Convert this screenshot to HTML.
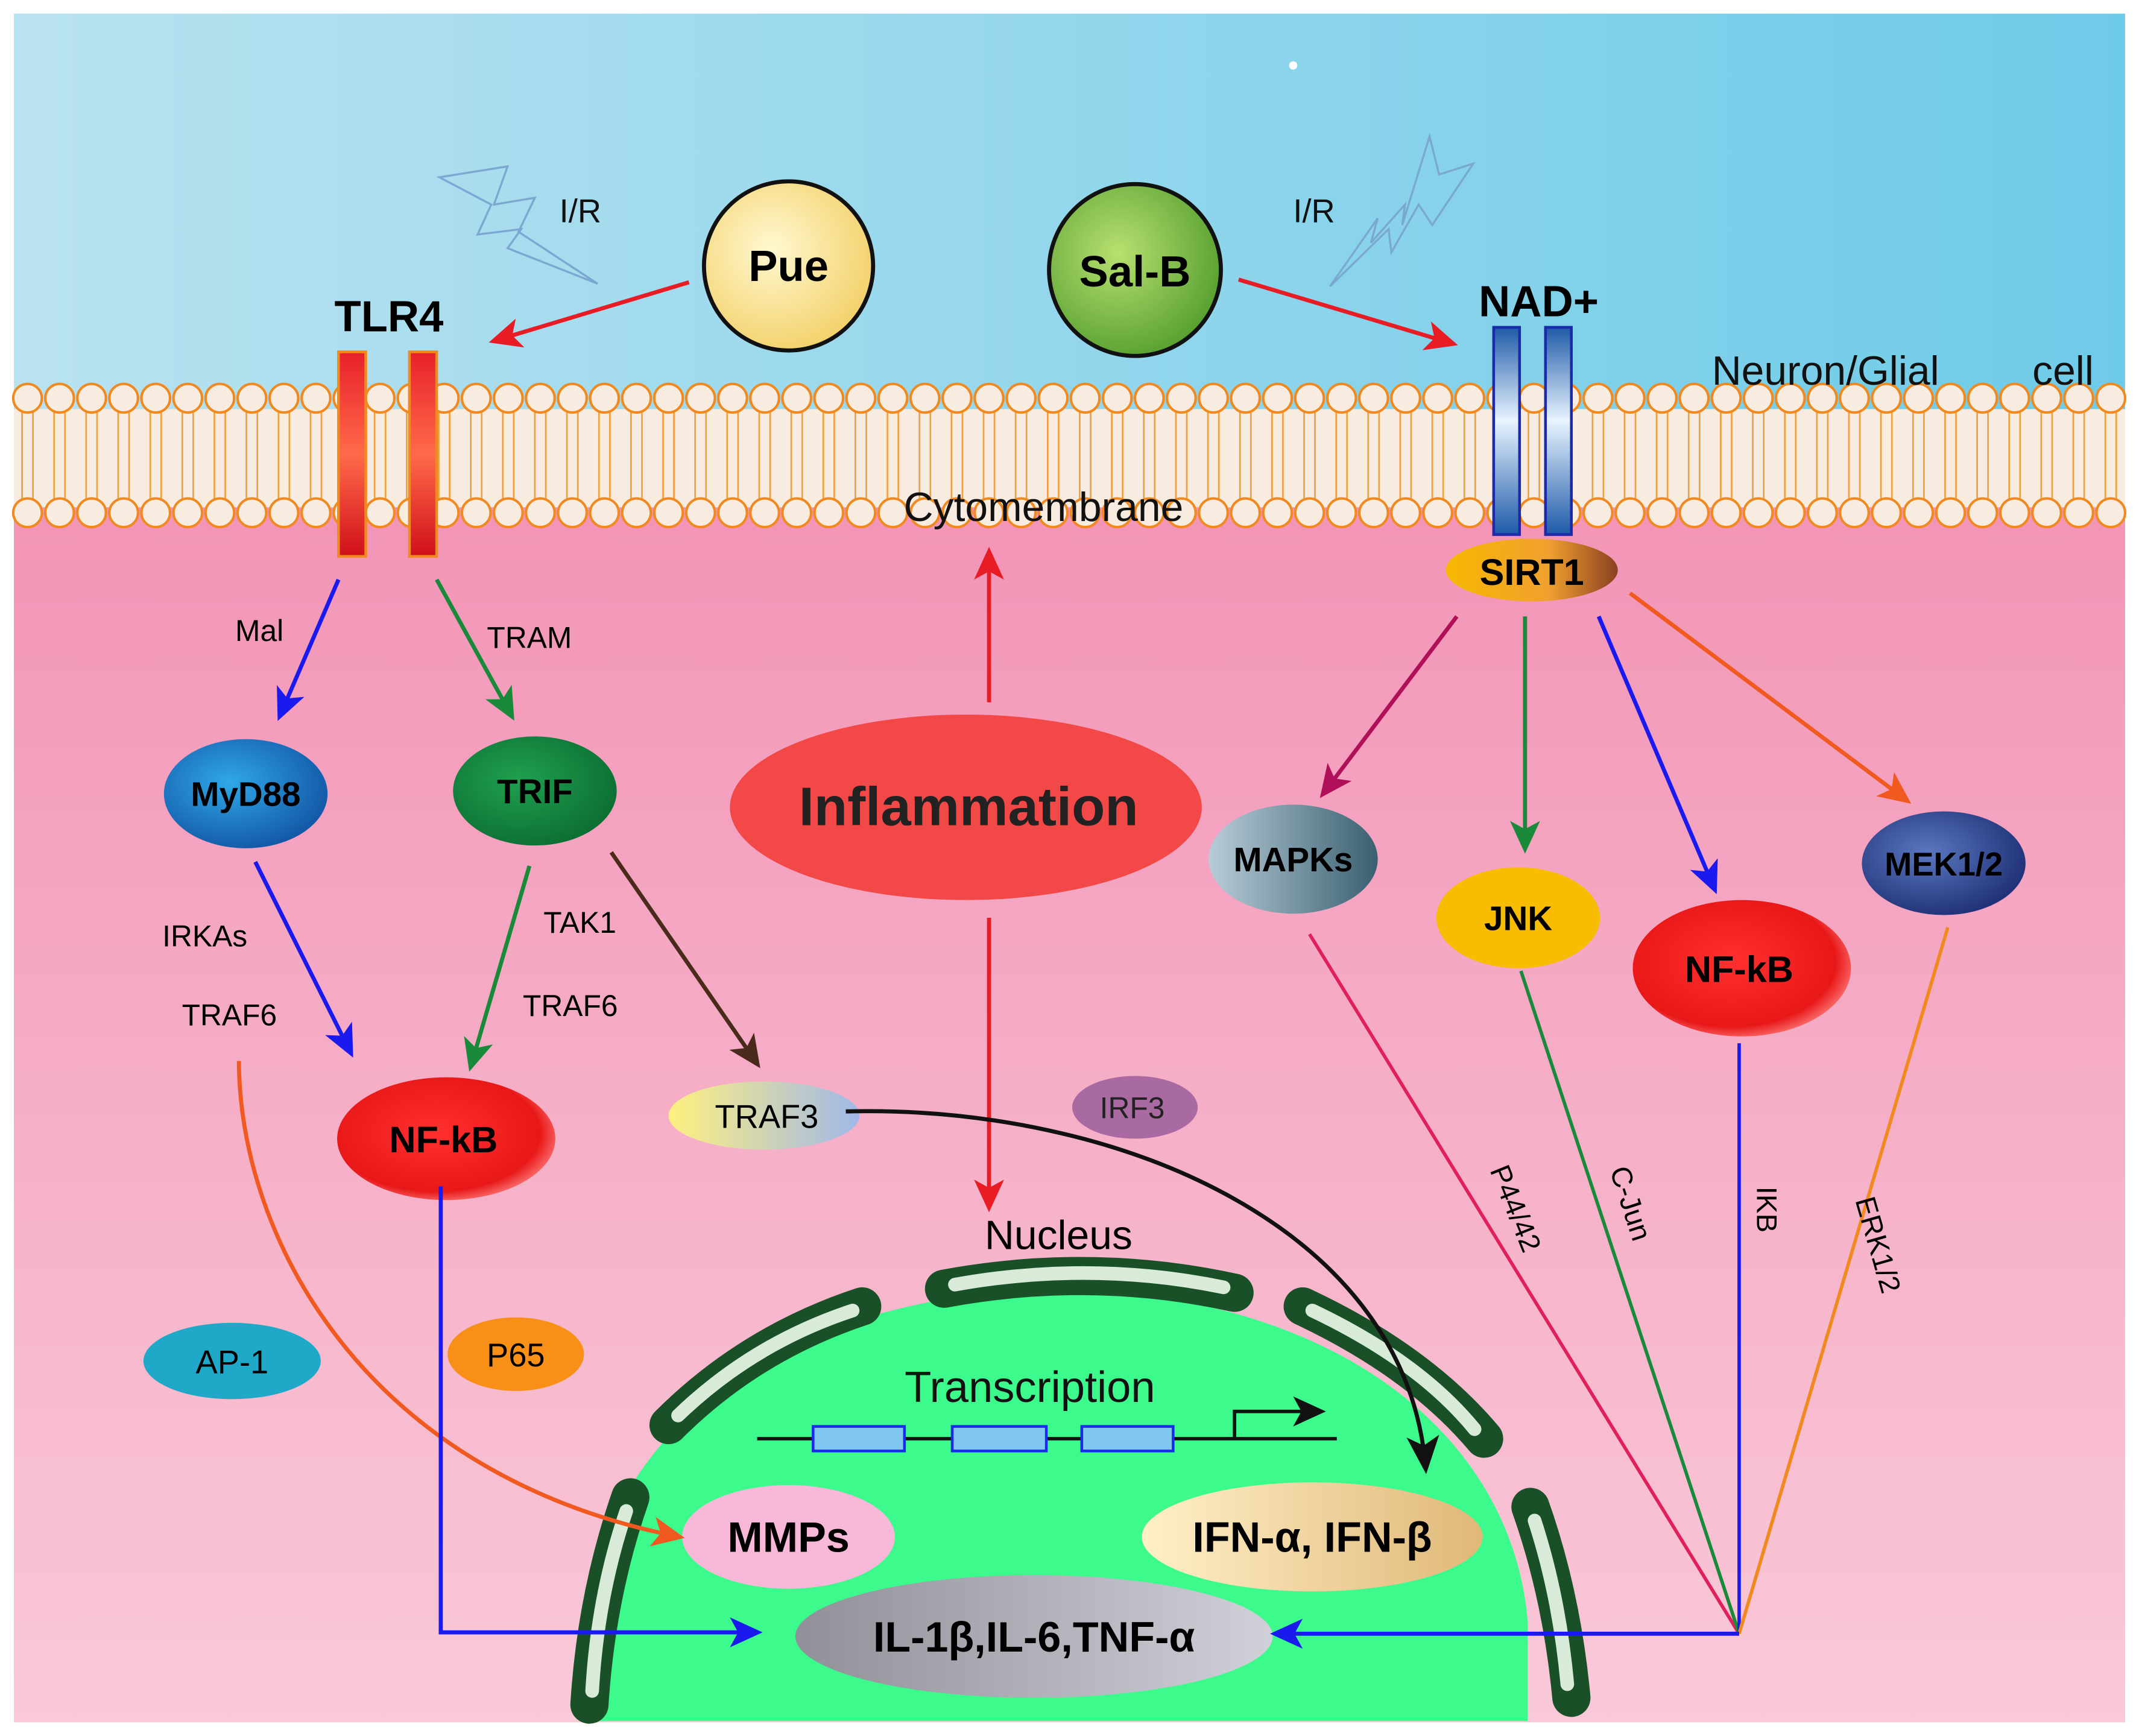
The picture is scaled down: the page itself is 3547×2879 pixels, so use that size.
<!DOCTYPE html>
<html><head><meta charset="utf-8"><style>
html,body{margin:0;padding:0;background:#fff}
svg{display:block}
text{font-family:"Liberation Sans",Arial,sans-serif}
</style></head><body>
<svg width="3547" height="2879" viewBox="0 0 1568 1273" xmlns="http://www.w3.org/2000/svg">
<defs>
<linearGradient id="sky" x1="0" y1="0" x2="1" y2="0"><stop offset="0" stop-color="#b9e2f0"/><stop offset="1" stop-color="#6ecbe8"/></linearGradient>
<linearGradient id="pink" x1="0" y1="0" x2="0" y2="1"><stop offset="0" stop-color="#f290b4"/><stop offset="1" stop-color="#f9c9d8"/></linearGradient>
<linearGradient id="redbar" x1="0" y1="0" x2="0" y2="1"><stop offset="0" stop-color="#e8202a"/><stop offset="0.5" stop-color="#ff6a4a"/><stop offset="1" stop-color="#d0101a"/></linearGradient>
<linearGradient id="bluebar" x1="0" y1="0" x2="0" y2="1"><stop offset="0" stop-color="#1e5aa8"/><stop offset="0.45" stop-color="#e8f4ff"/><stop offset="1" stop-color="#1e5aa8"/></linearGradient>
<radialGradient id="pue" cx="0.4" cy="0.4" r="0.7"><stop offset="0" stop-color="#fff8d0"/><stop offset="1" stop-color="#f2cd60"/></radialGradient>
<radialGradient id="sal" cx="0.4" cy="0.4" r="0.7"><stop offset="0" stop-color="#b8e070"/><stop offset="1" stop-color="#4e9a2a"/></radialGradient>
<linearGradient id="sirt" x1="0" y1="0" x2="1" y2="0"><stop offset="0" stop-color="#f7b800"/><stop offset="0.6" stop-color="#f0a030"/><stop offset="1" stop-color="#8a4020"/></linearGradient>
<radialGradient id="myd" cx="0.4" cy="0.4" r="0.7"><stop offset="0" stop-color="#30a8e8"/><stop offset="1" stop-color="#1050a0"/></radialGradient>
<radialGradient id="trif" cx="0.4" cy="0.4" r="0.7"><stop offset="0" stop-color="#20a050"/><stop offset="1" stop-color="#0a6a30"/></radialGradient>
<radialGradient id="nfkb" cx="0.45" cy="0.45" r="0.6"><stop offset="0" stop-color="#ff3030"/><stop offset="0.8" stop-color="#e81818"/><stop offset="1" stop-color="#ff8080"/></radialGradient>
<linearGradient id="traf3" x1="0" y1="0" x2="1" y2="0"><stop offset="0" stop-color="#fff080"/><stop offset="1" stop-color="#a0b8e8"/></linearGradient>
<linearGradient id="mapk" x1="0" y1="0" x2="1" y2="0"><stop offset="0" stop-color="#b8ccd8"/><stop offset="1" stop-color="#3a6070"/></linearGradient>
<radialGradient id="mek" cx="0.4" cy="0.4" r="0.7"><stop offset="0" stop-color="#5a78c0"/><stop offset="1" stop-color="#1a2a70"/></radialGradient>
<linearGradient id="ifn" x1="0" y1="0" x2="1" y2="0"><stop offset="0" stop-color="#fff0c8"/><stop offset="1" stop-color="#e0b878"/></linearGradient>
<linearGradient id="il" x1="0" y1="0" x2="1" y2="0"><stop offset="0" stop-color="#909098"/><stop offset="1" stop-color="#d0d0d8"/></linearGradient>
<marker id="aB" markerWidth="26" markerHeight="26" refX="20" refY="13" orient="auto" markerUnits="userSpaceOnUse" viewBox="0 0 26 26"><path d="M0,2L24,13L0,24L6,13z" fill="#1a1aee"/></marker>
<marker id="aG" markerWidth="26" markerHeight="26" refX="20" refY="13" orient="auto" markerUnits="userSpaceOnUse" viewBox="0 0 26 26"><path d="M0,2L24,13L0,24L6,13z" fill="#1a8a3a"/></marker>
<marker id="aRR" markerWidth="26" markerHeight="26" refX="20" refY="13" orient="auto" markerUnits="userSpaceOnUse" viewBox="0 0 26 26"><path d="M0,2L24,13L0,24L6,13z" fill="#e81c24"/></marker>
<marker id="aBr" markerWidth="26" markerHeight="26" refX="20" refY="13" orient="auto" markerUnits="userSpaceOnUse" viewBox="0 0 26 26"><path d="M0,2L24,13L0,24L6,13z" fill="#4a2a1a"/></marker>
<marker id="aM" markerWidth="26" markerHeight="26" refX="20" refY="13" orient="auto" markerUnits="userSpaceOnUse" viewBox="0 0 26 26"><path d="M0,2L24,13L0,24L6,13z" fill="#b0105a"/></marker>
<marker id="aO" markerWidth="26" markerHeight="26" refX="20" refY="13" orient="auto" markerUnits="userSpaceOnUse" viewBox="0 0 26 26"><path d="M0,2L24,13L0,24L6,13z" fill="#f05a20"/></marker>
<marker id="aK" markerWidth="26" markerHeight="26" refX="20" refY="13" orient="auto" markerUnits="userSpaceOnUse" viewBox="0 0 26 26"><path d="M0,2L24,13L0,24L6,13z" fill="#111"/></marker>
<marker id="aK2" markerWidth="30" markerHeight="30" refX="22" refY="15" orient="auto" markerUnits="userSpaceOnUse" viewBox="0 0 30 30"><path d="M0,3L28,15L0,27L7,15z" fill="#111"/></marker>
</defs>
<rect x="0" y="0" width="1568" height="1273" fill="#fff"/>
<rect x="10" y="10" width="1548" height="290" fill="url(#sky)"/>
<rect x="10" y="300" width="1548" height="963" fill="url(#pink)"/>
<circle cx="948" cy="48" r="3" fill="#fff"/>
<!-- membrane -->
<rect x="10" y="300" width="1548" height="72" fill="#f8ece0"/>
<g id="mem"></g>
<script>
(function(){var ns="http://www.w3.org/2000/svg",g=document.getElementById('mem');
for(var x=20;x<1560;x+=23.5){
 var t=document.createElementNS(ns,'path');t.setAttribute('d','M'+(x-4)+',300 v68 M'+(x+4)+',300 v68');t.setAttribute('stroke','#f0a040');t.setAttribute('stroke-width','1.2');g.appendChild(t);
 [292,376].forEach(function(y){var c=document.createElementNS(ns,'circle');c.setAttribute('cx',x);c.setAttribute('cy',y);c.setAttribute('r',10.5);c.setAttribute('fill','#f8ece0');c.setAttribute('stroke','#f08a20');c.setAttribute('stroke-width','1.8');g.appendChild(c);});
}})();
</script>
<!-- lightning -->
<path d="M322,130 L372,122 L362,150 L392,145 L380,170 L438,208 L372,182 L382,168 L350,172 L360,150 Z" fill="none" stroke="#7aa8d0" stroke-width="1.5"/>
<path d="M975,210 L1010,160 L1005,178 L1030,150 L1028,165 L1048,100 L1055,128 L1080,120 L1050,165 L1040,150 L1020,185 L1018,168 Z" fill="none" stroke="#7aa8d0" stroke-width="1.5"/>
<text x="410" y="163" font-size="24" fill="#111">I/R</text>
<text x="948" y="163" font-size="24" fill="#111">I/R</text>
<!-- receptors -->
<text x="285" y="243" font-size="32" font-weight="bold" text-anchor="middle">TLR4</text>
<rect x="248" y="258" width="20" height="150" fill="url(#redbar)" stroke="#f08a20" stroke-width="2"/>
<rect x="300" y="258" width="20" height="150" fill="url(#redbar)" stroke="#f08a20" stroke-width="2"/>
<text x="1128" y="232" font-size="32" font-weight="bold" text-anchor="middle">NAD+</text>
<rect x="1095" y="240" width="19" height="152" fill="url(#bluebar)" stroke="#1a2aaa" stroke-width="2"/>
<rect x="1133" y="240" width="19" height="152" fill="url(#bluebar)" stroke="#1a2aaa" stroke-width="2"/>
<text x="1255" y="282" font-size="30" fill="#111">Neuron/Glial</text>
<text x="1490" y="282" font-size="30" fill="#111">cell</text>
<text x="765" y="382" font-size="30" fill="#111" text-anchor="middle">Cytomembrane</text>
<!-- drugs -->
<circle cx="578" cy="195" r="62" fill="url(#pue)" stroke="#111" stroke-width="3"/>
<text x="578" y="206" font-size="32" font-weight="bold" text-anchor="middle">Pue</text>
<circle cx="832" cy="198" r="63" fill="url(#sal)" stroke="#111" stroke-width="3"/>
<text x="832" y="210" font-size="32" font-weight="bold" text-anchor="middle">Sal-B</text>
<line x1="505" y1="207" x2="362" y2="250" stroke="#e81c24" stroke-width="3" marker-end="url(#aRR)"/>
<line x1="908" y1="205" x2="1065" y2="252" stroke="#e81c24" stroke-width="3" marker-end="url(#aRR)"/>
<!-- SIRT1 -->
<ellipse cx="1123" cy="418" rx="63" ry="23" fill="url(#sirt)"/>
<text x="1123" y="429" font-size="27" font-weight="bold" text-anchor="middle">SIRT1</text>
<!-- inflammation -->
<line x1="725" y1="515" x2="725" y2="405" stroke="#e81c24" stroke-width="3" marker-end="url(#aRR)"/>
<line x1="725" y1="673" x2="725" y2="885" stroke="#e81c24" stroke-width="3" marker-end="url(#aRR)"/>
<ellipse cx="708" cy="592" rx="173" ry="68" fill="#f24848"/>
<text x="710" y="605" font-size="40" font-weight="bold" text-anchor="middle" fill="#222">Inflammation</text>
<!-- left pathway -->
<text x="190" y="470" font-size="22" text-anchor="middle">Mal</text>
<text x="388" y="475" font-size="22" text-anchor="middle">TRAM</text>
<line x1="248" y1="425" x2="205" y2="525" stroke="#1a1aee" stroke-width="3" marker-end="url(#aB)"/>
<line x1="320" y1="425" x2="375" y2="525" stroke="#1a8a3a" stroke-width="3" marker-end="url(#aG)"/>
<ellipse cx="180" cy="582" rx="60" ry="40" fill="url(#myd)"/>
<text x="180" y="591" font-size="25" font-weight="bold" text-anchor="middle">MyD88</text>
<ellipse cx="392" cy="580" rx="60" ry="40" fill="url(#trif)"/>
<text x="392" y="589" font-size="25" font-weight="bold" text-anchor="middle">TRIF</text>
<text x="150" y="694" font-size="22" text-anchor="middle">IRKAs</text>
<text x="168" y="752" font-size="22" text-anchor="middle">TRAF6</text>
<text x="425" y="684" font-size="22" text-anchor="middle">TAK1</text>
<text x="418" y="745" font-size="22" text-anchor="middle">TRAF6</text>
<line x1="187" y1="632" x2="257" y2="772" stroke="#1a1aee" stroke-width="3" marker-end="url(#aB)"/>
<line x1="388" y1="635" x2="345" y2="782" stroke="#1a8a3a" stroke-width="3" marker-end="url(#aG)"/>
<line x1="448" y1="625" x2="555" y2="780" stroke="#4a2a1a" stroke-width="3" marker-end="url(#aBr)"/>
<ellipse cx="327" cy="835" rx="80" ry="45" fill="url(#nfkb)"/>
<text x="325" y="845" font-size="27" font-weight="bold" text-anchor="middle">NF-kB</text>
<ellipse cx="560" cy="818" rx="70" ry="25" fill="url(#traf3)"/>
<text x="562" y="827" font-size="24" text-anchor="middle">TRAF3</text>
<ellipse cx="832" cy="812" rx="46" ry="23" fill="#a86aa0"/>
<text x="830" y="820" font-size="22" text-anchor="middle" fill="#222">IRF3</text>
<ellipse cx="170" cy="998" rx="65" ry="28" fill="#20a8c8"/>
<text x="170" y="1007" font-size="24" text-anchor="middle">AP-1</text>
<ellipse cx="378" cy="993" rx="50" ry="27" fill="#f89018"/>
<text x="378" y="1002" font-size="24" text-anchor="middle">P65</text>
<!-- nucleus -->
<text x="776" y="916" font-size="30" text-anchor="middle">Nucleus</text>
<path d="M430,1262 L430,1190 C440,1060 560,950 776,945 C990,950 1110,1060 1120,1190 L1120,1262 Z" fill="#3cfa8c"/>
<g fill="none" stroke-linecap="round">
<g stroke="#1a5028" stroke-width="28">
<path d="M692,945 Q800,925 905,948"/>
<path d="M490,1045 Q550,985 632,958"/>
<path d="M955,958 Q1040,998 1088,1055"/>
<path d="M462,1098 Q437,1170 432,1250"/>
<path d="M1122,1105 Q1145,1170 1152,1245"/>
</g>
<g stroke="#d8ead8" stroke-width="10">
<path d="M700,942 Q800,924 897,944"/>
<path d="M497,1038 Q552,985 625,961"/>
<path d="M962,961 Q1040,998 1081,1048"/>
<path d="M459,1108 Q438,1170 434,1240"/>
<path d="M1125,1115 Q1143,1170 1149,1235"/>
</g>
</g>
<text x="755" y="1028" font-size="32" text-anchor="middle" fill="#111">Transcription</text>
<line x1="555" y1="1055" x2="980" y2="1055" stroke="#111" stroke-width="2.5"/>
<rect x="596" y="1046" width="67" height="18" fill="#80c8f0" stroke="#1a2aee" stroke-width="2"/>
<rect x="698" y="1046" width="69" height="18" fill="#80c8f0" stroke="#1a2aee" stroke-width="2"/>
<rect x="793" y="1046" width="67" height="18" fill="#80c8f0" stroke="#1a2aee" stroke-width="2"/>
<path d="M905,1055 V1035 H968" fill="none" stroke="#111" stroke-width="2.5" marker-end="url(#aK)"/>
<ellipse cx="578" cy="1127" rx="78" ry="38" fill="#f8b8d8"/>
<text x="578" y="1138" font-size="31" font-weight="bold" text-anchor="middle">MMPs</text>
<ellipse cx="962" cy="1127" rx="125" ry="40" fill="url(#ifn)"/>
<text x="962" y="1138" font-size="31" font-weight="bold" text-anchor="middle">IFN-α, IFN-β</text>
<ellipse cx="758" cy="1200" rx="175" ry="45" fill="url(#il)"/>
<text x="758" y="1211" font-size="31" font-weight="bold" text-anchor="middle">IL-1β,IL-6,TNF-α</text>
<!-- connectors to nucleus -->
<path d="M175,778 C175,900 260,1080 498,1127" fill="none" stroke="#f05a20" stroke-width="3" marker-end="url(#aO)"/>
<path d="M323,870 V1197 H555" fill="none" stroke="#1a1aee" stroke-width="3" marker-end="url(#aB)"/>
<path d="M620,815 C820,810 1030,900 1045,1075" fill="none" stroke="#111" stroke-width="3" marker-end="url(#aK2)"/>
<!-- right pathway -->
<line x1="1068" y1="452" x2="970" y2="582" stroke="#b0105a" stroke-width="3" marker-end="url(#aM)"/>
<line x1="1118" y1="452" x2="1118" y2="622" stroke="#1a8a3a" stroke-width="3" marker-end="url(#aG)"/>
<line x1="1172" y1="452" x2="1257" y2="652" stroke="#1a1aee" stroke-width="3" marker-end="url(#aB)"/>
<line x1="1195" y1="435" x2="1398" y2="587" stroke="#f05a20" stroke-width="3" marker-end="url(#aO)"/>
<line x1="960" y1="685" x2="1275" y2="1198" stroke="#e0205a" stroke-width="2.5"/>
<line x1="1115" y1="712" x2="1275" y2="1198" stroke="#1a8a3a" stroke-width="2.5"/>
<line x1="1275" y1="765" x2="1275" y2="1198" stroke="#1a1aee" stroke-width="2.5"/>
<line x1="1428" y1="680" x2="1275" y2="1198" stroke="#f08a20" stroke-width="2.5"/>
<line x1="1275" y1="1198" x2="935" y2="1198" stroke="#1a1aee" stroke-width="3" marker-end="url(#aB)"/>
<ellipse cx="948" cy="630" rx="62" ry="40" fill="url(#mapk)"/>
<text x="948" y="639" font-size="25" font-weight="bold" text-anchor="middle">MAPKs</text>
<ellipse cx="1113" cy="673" rx="60" ry="37" fill="#f8bc00"/>
<text x="1113" y="682" font-size="25" font-weight="bold" text-anchor="middle">JNK</text>
<ellipse cx="1277" cy="710" rx="80" ry="50" fill="url(#nfkb)"/>
<text x="1275" y="720" font-size="27" font-weight="bold" text-anchor="middle">NF-kB</text>
<ellipse cx="1425" cy="633" rx="60" ry="38" fill="url(#mek)"/>
<text x="1425" y="642" font-size="24" font-weight="bold" text-anchor="middle">MEK1/2</text>
<text x="0" y="0" font-size="21" transform="translate(1092,858) rotate(68)">P44/42</text>
<text x="0" y="0" font-size="21" transform="translate(1180,858) rotate(72)">C-Jun</text>
<text x="0" y="0" font-size="21" transform="translate(1288,870) rotate(90)">IKB</text>
<text x="0" y="0" font-size="21" transform="translate(1360,880) rotate(74)">ERK1/2</text>
</svg>
</body></html>
